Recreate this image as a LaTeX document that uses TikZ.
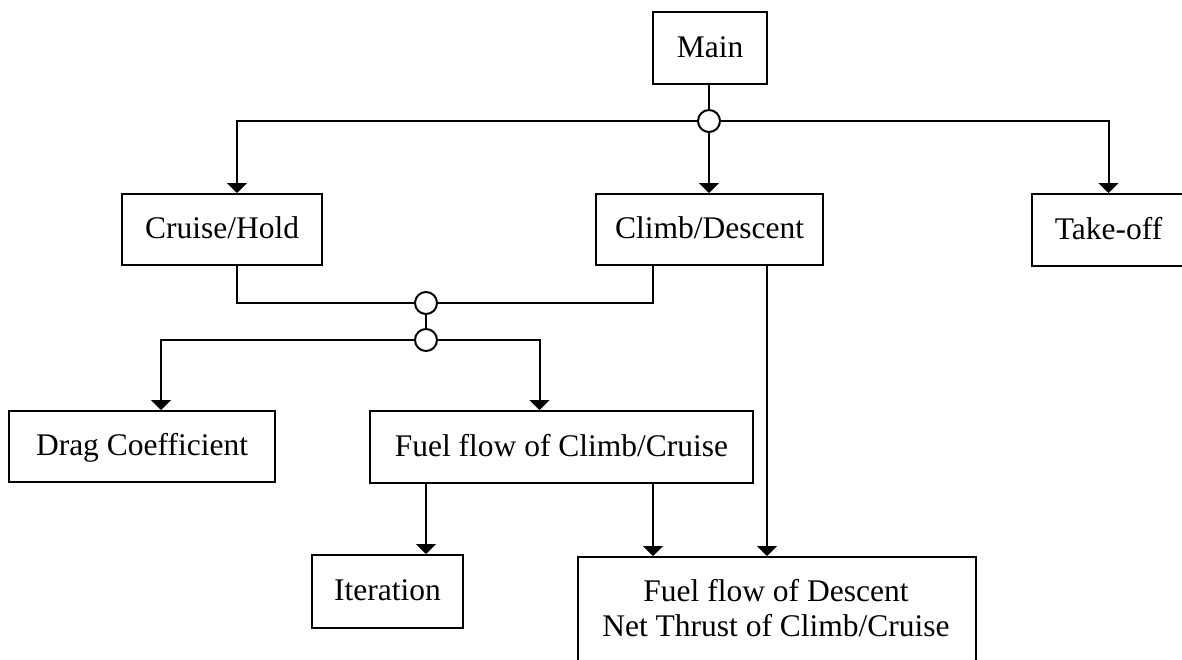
\documentclass[tikz,border=0pt]{standalone}
\usepackage{fontspec}
\setmainfont{Liberation Serif}
\usetikzlibrary{arrows.meta}

\tikzset{
  box/.style={draw, line width=2pt, rectangle, inner sep=0pt,
              font=\fontsize{31.5}{37}\selectfont,
              text height=18pt, text depth=0pt},
  junction/.style={draw, line width=2pt, circle, fill=white,
                   minimum size=22pt, inner sep=0pt},
  link/.style={line width=2pt},
  arr/.style={line width=2pt, -{Triangle[width=20pt,length=10pt]}},
  body/.style={font=\fontsize{31.5}{37}\selectfont, align=center, inner sep=0pt}
}

\begin{document}
\begin{tikzpicture}[x=1pt, y=-1pt]
  \useasboundingbox (0,0) rectangle (1182,659);
  \clip (0,0) rectangle (1182,659);

  % modules
  \node[box, minimum width=114pt, minimum height=72pt] (main)    at (710,48)      {Main};
  \node[box, minimum width=200pt, minimum height=71pt] (cruise)  at (222,229.5)   {Cruise/Hold};
  \node[box, minimum width=227pt, minimum height=71pt] (climb)   at (709.5,229.5) {Climb/Descent};
  \node[box, minimum width=153pt, minimum height=72pt] (takeoff) at (1108.5,230)  {Take-off};
  \node[box, minimum width=266pt, minimum height=71pt] (drag)    at (142,446.5)   {Drag Coefficient};
  \node[box, minimum width=383pt, minimum height=72pt] (fuel)    at (561.5,447)   {Fuel flow of Climb/Cruise};
  \node[box, minimum width=151pt, minimum height=73pt] (iter)    at (387.5,591.5) {Iteration};
  \node[box, minimum width=398pt, minimum height=150pt, anchor=north west] (thrust) at (577,556) {};
  \node[body] (thrusttext) at (776,608) {Fuel flow of Descent\\[-2pt]Net Thrust of Climb/Cruise};

  % junction points
  \coordinate (p1) at (709,121);
  \coordinate (p2) at (426,303);
  \coordinate (p3) at (426,340);

  % tap points on the box edges
  \coordinate (cruiseOut) at ([xshift=15pt]cruise.south);
  \coordinate (climbOut)  at ([xshift=-56.5pt]climb.south);
  \coordinate (climbDown) at ([xshift=57.5pt]climb.south);
  \coordinate (fuelIter)  at ([xshift=-135.5pt]fuel.south);
  \coordinate (fuelDown)  at ([xshift=91.5pt]fuel.south);

  % connector lines
  \draw[link] (main.south -| p1) -- (p1);
  \draw[arr] (p1) -| ([xshift=15pt]cruise.north);
  \draw[arr] (p1) -- (p1 |- climb.north);
  \draw[arr] (p1) -| (takeoff.north);

  \draw[link] (cruiseOut) |- (p2);
  \draw[link] (climbOut) |- (p2);
  \draw[link] (p2) -- (p3);
  \draw[arr] (p3) -| ([xshift=19pt]drag.north);
  \draw[arr] (p3) -| ([xshift=-22pt]fuel.north);

  \draw[arr] (fuelIter) -- (fuelIter |- iter.north);
  \draw[arr] (fuelDown) -- (fuelDown |- thrust.north);
  \draw[arr] (climbDown) -- (climbDown |- thrust.north);

  % junction circles
  \node[junction] (j1) at (p1) {};
  \node[junction] (j2) at (p2) {};
  \node[junction] (j3) at (p3) {};
\end{tikzpicture}
\end{document}
